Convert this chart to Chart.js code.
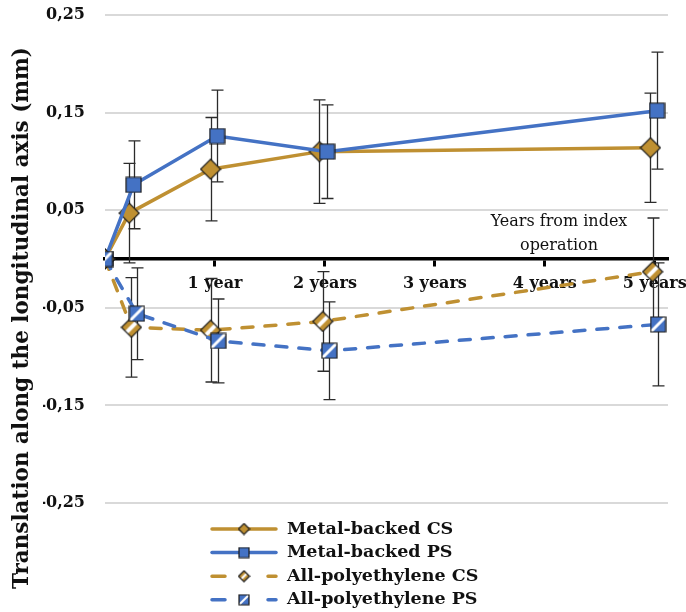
<!DOCTYPE html>
<html>
<head>
<meta charset="utf-8">
<script src="https://cdn.jsdelivr.net/npm/chart.js@4.4.0/dist/chart.umd.min.js"></script>
<style>
  html, body { margin: 0; padding: 0; background: #fff; }
  canvas { display: block; }
</style>
</head>
<body>
<canvas id="translation" width="686" height="612"></canvas>
<script>
var seriesNames = ['Metal-backed CS', 'Metal-backed PS', 'All-polyethylene CS', 'All-polyethylene PS'];

// years from index operation (small offsets as in the original so bars don't overlap)
var xMbCs = [0, 0.22, 0.96, 1.95, 4.96];
var yMbCs = [0, 0.047, 0.092, 0.110, 0.114];
var eMbCs = [0, 0.051, 0.053, 0.053, 0.056];

var xMbPs = [0, 0.26, 1.02, 2.02, 5.02];
var yMbPs = [0, 0.076, 0.126, 0.110, 0.152];
var eMbPs = [0, 0.045, 0.047, 0.048, 0.060];

var xApCs = [0, 0.24, 0.96, 1.98, 4.98];
var yApCs = [0, -0.070, -0.073, -0.064, -0.013];
var eApCs = [0, 0.051, 0.053, 0.051, 0.055];

var xApPs = [0, 0.29, 1.03, 2.04, 5.03];
var yApPs = [0, -0.056, -0.084, -0.094, -0.067];
var eApPs = [0, 0.047, 0.043, 0.050, 0.063];

var xTickVals = [1, 2, 3, 4, 5];
var xTickLabels = ['1 year', '2 years', '3 years', '4 years', '5 years'];
var yTickVals = [-0.25, -0.15, -0.05, 0.05, 0.15, 0.25];

var gold = '#BF9032';
var blue = '#4472C4';
var serif = '"DejaVu Serif", serif';

function points(xs, ys) {
    return xs.map(function (x, i) { return { x: x, y: ys[i] }; });
}

// marker drawn on a small canvas, optionally with the white diagonal stripe
function makeMarker(shape, fill, hatched, size) {
    var c = document.createElement('canvas');
    c.width = c.height = size + 2;
    var g = c.getContext('2d');
    var m = (size + 2) / 2, h = size / 2;
    function outline() {
        g.beginPath();
        if (shape === 'diamond') {
            g.moveTo(m, m - h); g.lineTo(m + h, m); g.lineTo(m, m + h); g.lineTo(m - h, m);
        } else {
            g.rect(m - h, m - h, size, size);
        }
        g.closePath();
    }
    outline();
    g.save();
    g.clip();
    g.fillStyle = fill;
    g.fillRect(0, 0, c.width, c.height);
    if (hatched) {
        g.strokeStyle = '#fff';
        g.lineWidth = size * 0.2;
        g.beginPath();
        g.moveTo(0, c.height); g.lineTo(c.width, 0);
        g.stroke();
    }
    g.restore();
    outline();
    g.lineWidth = 1.2;
    g.strokeStyle = '#1b1b1b';
    g.stroke();
    return c;
}

var markerStyles = [
    ['diamond', gold, false],
    ['square', blue, false],
    ['diamond', gold, true],
    ['square', blue, true]
];

function series(i, xs, ys, es, dashed) {
    var ms = markerStyles[i];
    return {
        label: seriesNames[i],
        data: points(xs, ys),
        errors: es,
        borderColor: ms[1],
        backgroundColor: ms[1],
        borderWidth: 3.5,
        borderDash: dashed ? [11, 12] : [],
        borderCapStyle: dashed ? 'round' : 'butt',
        pointStyle: makeMarker(ms[0], ms[1], ms[2], ms[0] === 'diamond' ? 20 : 15),
        pointRadius: 9,
        order: 3 - i
    };
}

var errorBars = {
    id: 'errorBars',
    beforeDatasetsDraw: function (chart) {
        var ctx = chart.ctx, xs = chart.scales.x, ys = chart.scales.y;
        ctx.save();
        ctx.strokeStyle = '#2b2b2b';
        ctx.lineWidth = 1.3;
        chart.data.datasets.forEach(function (ds) {
            ds.data.forEach(function (p, i) {
                var e = ds.errors[i];
                if (!e) return;
                var x = Math.round(xs.getPixelForValue(p.x)) + 0.5;
                var yt = ys.getPixelForValue(p.y + e);
                var yb = ys.getPixelForValue(p.y - e);
                ctx.beginPath();
                ctx.moveTo(x, yt); ctx.lineTo(x, yb);
                ctx.moveTo(x - 6, yt); ctx.lineTo(x + 6, yt);
                ctx.moveTo(x - 6, yb); ctx.lineTo(x + 6, yb);
                ctx.stroke();
            });
        });
        ctx.restore();
    }
};

var texts = {
    id: 'texts',
    afterDraw: function (chart) {
        var ctx = chart.ctx, area = chart.chartArea;
        var y0 = chart.scales.y.getPixelForValue(0);
        ctx.save();
        ctx.fillStyle = '#111';
        ctx.textAlign = 'center';
        ctx.textBaseline = 'middle';
        ctx.font = '16px ' + serif;
        ctx.fillText('Years from index', area.right - 109, y0 - 37);
        ctx.fillText('operation', area.right - 109, y0 - 13);

        ctx.translate(22, 318);
        ctx.rotate(-Math.PI / 2);
        ctx.font = 'bold 21.5px ' + serif;
        ctx.fillText('Translation along the longitudinal axis (mm)', 0, 0);
        ctx.restore();
    }
};

var legendBox = {
    id: 'legendBox',
    afterDraw: function (chart) {
        var ctx = chart.ctx, area = chart.chartArea;
        var x1 = 210, x2 = 278, xm = 244;
        ctx.save();
        chart.data.datasets.forEach(function (ds, i) {
            var y = area.bottom + 26 + i * 23.6;
            ctx.strokeStyle = ds.borderColor;
            ctx.lineWidth = 3.5;
            ctx.lineCap = 'round';
            ctx.setLineDash(ds.borderDash.length ? [13, 43] : []);
            ctx.beginPath();
            ctx.moveTo(x1 + 2, y); ctx.lineTo(x2 - 2, y);
            ctx.stroke();
            ctx.setLineDash([]);
            var ms = markerStyles[i];
            var img = makeMarker(ms[0], ms[1], ms[2], ms[0] === 'diamond' ? 11 : 10);
            ctx.drawImage(img, xm - img.width / 2, y - img.height / 2);
            ctx.fillStyle = '#111';
            ctx.font = 'bold 17.5px ' + serif;
            ctx.textAlign = 'left';
            ctx.textBaseline = 'middle';
            ctx.fillText(ds.label, 287, y);
        });
        ctx.restore();
    }
};

var ctxTranslation = document.getElementById('translation').getContext('2d');
var translationChart = new Chart(ctxTranslation, {
    type: 'line',
    data: {
        datasets: [
            series(0, xMbCs, yMbCs, eMbCs, false),
            series(1, xMbPs, yMbPs, eMbPs, false),
            series(2, xApCs, yApCs, eApCs, true),
            series(3, xApPs, yApPs, eApPs, true)
        ]
    },
    options: {
        responsive: false,
        animation: false,
        devicePixelRatio: 1,
        events: [],
        layout: { padding: { left: 43, right: 18, top: 15, bottom: 109 } },
        plugins: {
            legend: { display: false },
            tooltip: { enabled: false }
        },
        scales: {
            x: {
                type: 'linear',
                min: 0,
                max: 5.12,
                position: { y: 0 },
                afterBuildTicks: function (s) {
                    s.ticks = xTickVals.map(function (v) { return { value: v }; });
                },
                afterFit: function (s) {
                    s.paddingLeft = 0;
                    s.paddingRight = 0;
                },
                grid: { drawOnChartArea: false, drawTicks: true, tickLength: 6, tickWidth: 3, tickColor: '#000' },
                border: { display: true, color: '#000', width: 3.5 },
                ticks: {
                    padding: 9,
                    maxRotation: 0,
                    autoSkip: false,
                    color: '#111',
                    font: { family: serif, size: 16, weight: 'bold' },
                    callback: function (v) {
                        var i = xTickVals.indexOf(v);
                        return i >= 0 ? xTickLabels[i] : '';
                    }
                }
            },
            y: {
                min: -0.25,
                max: 0.25,
                afterBuildTicks: function (s) {
                    s.ticks = yTickVals.map(function (v) { return { value: v }; });
                },
                afterFit: function (s) {
                    s.width = 62;
                    s.paddingTop = 0;
                    s.paddingBottom = 0;
                },
                grid: { color: '#d9d9d9', lineWidth: 2, drawTicks: false },
                border: { display: false },
                ticks: {
                    padding: 20,
                    color: '#111',
                    font: { family: serif, size: 16, weight: 'bold' },
                    callback: function (v) { return v.toFixed(2).replace('.', ','); }
                }
            }
        }
    },
    plugins: [errorBars, texts, legendBox]
});
</script>
</body>
</html>
